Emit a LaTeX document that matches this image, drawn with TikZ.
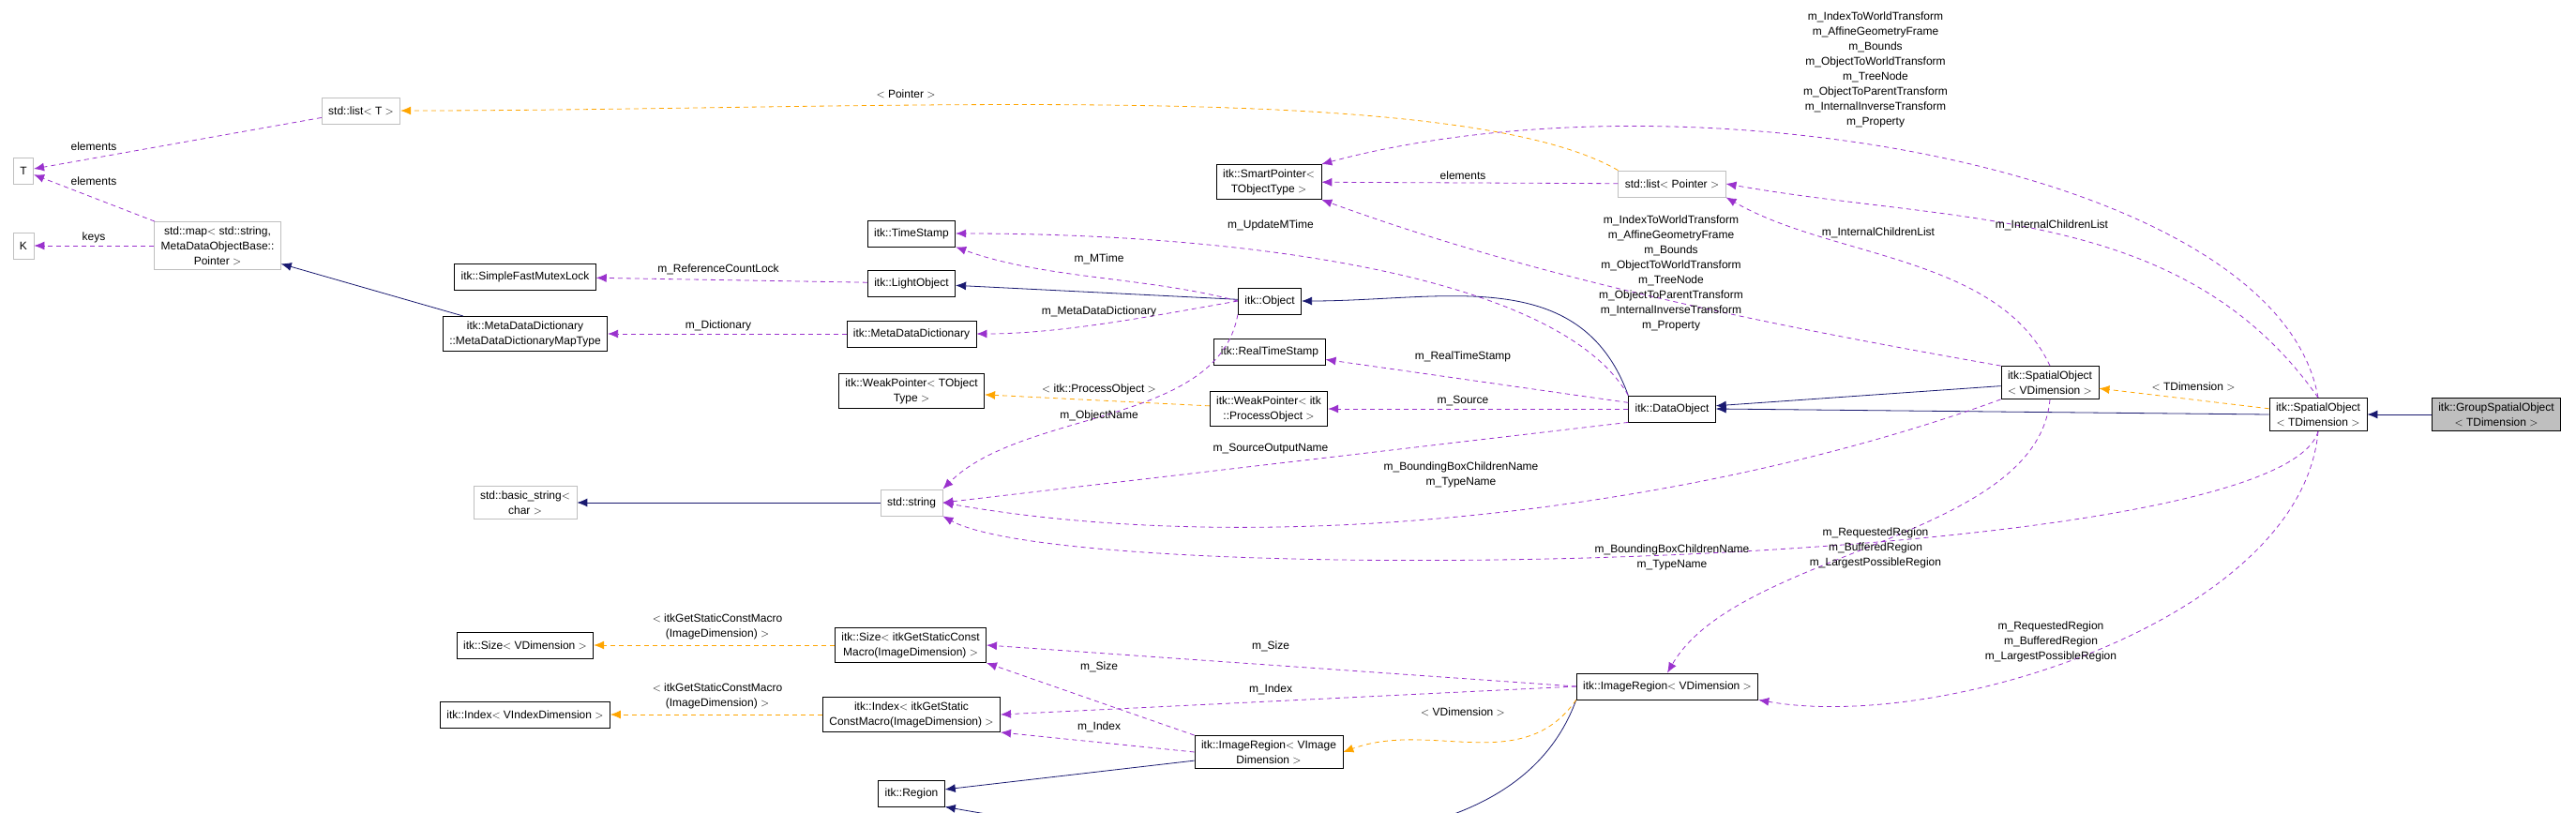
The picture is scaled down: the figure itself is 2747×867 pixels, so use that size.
\documentclass[tikz,border=0pt]{standalone}
\usepackage{fontspec}
\setmainfont{Liberation Sans}
\usetikzlibrary{arrows.meta, positioning}
\definecolor{usecol}{HTML}{9A32CD}
\definecolor{tplcol}{HTML}{FFA500}
\definecolor{inhcol}{HTML}{191970}
\definecolor{greybox}{HTML}{BFBFBF}

\begin{document}
\begin{tikzpicture}[x=1pt,y=-1pt,font=\fontsize{12}{16}\selectfont]
    \tikzstyle{cls}=[draw,thick,align=center,inner xsep=7pt,inner ysep=5pt,minimum height=28pt]
    \tikzstyle{ext}=[cls,draw=greybox]
    \tikzstyle{lbl}=[align=center,inner sep=1pt]
    \tikzstyle{use}=[-{Latex[length=11pt,width=9pt]},usecol,thick,dash pattern=on 5pt off 4pt]
    \tikzstyle{tpl}=[-{Latex[length=11pt,width=9pt]},tplcol,thick,dash pattern=on 5pt off 4pt]
    \tikzstyle{inh}=[-{Latex[length=11pt,width=9pt]},inhcol,thick]

    \useasboundingbox (0,0) rectangle (2747,867);

    % left column
    \node[ext] (T) at (25,182) {T};
    \node[ext] (K) at (25,262) {K};
    \node[ext] (ListT) at (385,118) {std::list$<$ T $>$};
    \node[ext] (Map) at (232,262) {std::map$<$ std::string,\\ MetaDataObjectBase::\\ Pointer $>$};
    \node[cls] (Mutex) at (560,295) {itk::SimpleFastMutexLock};
    \node[cls] (MapType) at (560,356) {itk::MetaDataDictionary\\ ::MetaDataDictionaryMapType};
    \node[ext] (BasicStr) at (560,536) {std::basic\_string$<$\\ char $>$};
    \node[cls] (SizeV) at (560,688) {itk::Size$<$ VDimension $>$};
    \node[cls] (IndexV) at (560,762) {itk::Index$<$ VIndexDimension $>$};

    % second column
    \node[cls] (TStamp) at (972,249) {itk::TimeStamp};
    \node[cls] (LightObj) at (972,302) {itk::LightObject};
    \node[cls] (MetaDict) at (972,356) {itk::MetaDataDictionary};
    \node[cls] (WeakT) at (972,417) {itk::WeakPointer$<$ TObject\\ Type $>$};
    \node[ext] (Str) at (972,536) {std::string};
    \node[cls] (SizeM) at (971,688) {itk::Size$<$ itkGetStaticConst\\ Macro(ImageDimension) $>$};
    \node[cls] (IndexM) at (972,762) {itk::Index$<$ itkGetStatic\\ ConstMacro(ImageDimension) $>$};
    \node[cls] (Region) at (972,846) {itk::Region};

    % third column
    \node[cls] (SmartP) at (1353,194) {itk::SmartPointer$<$\\ TObjectType $>$};
    \node[cls] (Obj) at (1354,321) {itk::Object};
    \node[cls] (RealTS) at (1354,375) {itk::RealTimeStamp};
    \node[cls] (WeakP) at (1353,436) {itk::WeakPointer$<$ itk\\ ::ProcessObject $>$};
    \node[cls] (ImgRegI) at (1353,802) {itk::ImageRegion$<$ VImage\\ Dimension $>$};

    % right part
    \node[ext] (ListP) at (1783,196) {std::list$<$ Pointer $>$};
    \node[cls] (DataObj) at (1783,436) {itk::DataObject};
    \node[cls] (ImgRegV) at (1778,732) {itk::ImageRegion$<$ VDimension $>$};
    \node[cls] (SpatV) at (2186,408) {itk::SpatialObject\\ $<$ VDimension $>$};
    \node[cls] (SpatT) at (2472,442) {itk::SpatialObject\\ $<$ TDimension $>$};
    \node[cls,fill=greybox] (Group) at (2662,442) {itk::GroupSpatialObject\\ $<$ TDimension $>$};

    % inheritance
    \draw[inh] (MapType) -- (Map);
    \draw[inh] (Obj) -- (LightObj);
    \draw[inh] (Str) -- (BasicStr);
    \draw[inh] (DataObj.north west) .. controls +(-110:150) and +(0:150) .. (Obj.east);
    \draw[inh] (SpatV) -- (DataObj);
    \draw[inh] (SpatT.west) -- (DataObj.east);
    \draw[inh] (Group) -- (SpatT);
    \draw[inh] (ImgRegI) -- (Region);
    \draw[inh] (ImgRegV.south west) .. controls +(110:200) and +(10:300) .. (Region.south east);

    % templates
    \draw[tpl] (ListP.north west) .. controls +(-150:200) and +(0:500) .. (ListT.east);
    \draw[tpl] (WeakP) -- (WeakT);
    \draw[tpl] (SpatT) -- (SpatV);
    \draw[tpl] (SizeM) -- (SizeV);
    \draw[tpl] (IndexM) -- (IndexV);
    \draw[tpl] (ImgRegV.south west) .. controls +(125:100) and +(-20:100) .. (ImgRegI.east);

    % members
    \draw[use] (ListT) -- (T);
    \draw[use] (Map) -- (T);
    \draw[use] (Map) -- (K);
    \draw[use] (LightObj) -- (Mutex);
    \draw[use] (MetaDict) -- (MapType);
    \draw[use] (Obj.west) .. controls +(-165:100) and +(20:100) .. (TStamp.south east);
    \draw[use] (Obj.west) .. controls +(170:90) and +(0:90) .. (MetaDict.east);
    \draw[use] (Obj.south west) .. controls +(100:120) and +(-45:120) .. (Str.north east);
    \draw[use] (DataObj.north west) .. controls +(-120:150) and +(0:300) .. (TStamp.east);
    \draw[use] (DataObj) -- (RealTS);
    \draw[use] (DataObj) -- (WeakP);
    \draw[use] (DataObj.south west) -- (Str.east);
    \draw[use] (ListP) -- (SmartP);
    \draw[use] (SpatV.north west) .. controls +(-170:250) and +(20:250) .. (SmartP.south east);
    \draw[use] (SpatT.north) .. controls +(-100:250) and +(-15:400) .. (SmartP.north east);
    \draw[use] (SpatV.north) .. controls +(-115:130) and +(30:130) .. (ListP.south east);
    \draw[use] (SpatT.north) .. controls +(-125:250) and +(10:250) .. (ListP.east);
    \draw[use] (SpatV.south west) .. controls +(160:350) and +(10:350) .. (Str.east);
    \draw[use] (SpatT.south) .. controls (2430,610) and (1150,630) .. (Str.south east);
    \draw[use] (SpatV.south) .. controls +(95:150) and +(-60:150) .. (ImgRegV.north);
    \draw[use] (SpatT.south) .. controls +(95:200) and +(10:200) .. (ImgRegV.south east);
    \draw[use] (ImgRegV.west) -- (SizeM.east);
    \draw[use] (ImgRegV.west) -- (IndexM.east);
    \draw[use] (ImgRegI.north west) -- (SizeM.south east);
    \draw[use] (ImgRegI.west) -- (IndexM.south east);

    % labels
    \node[lbl] (lElemA) at (100,156) {elements};
    \node[lbl] (lElemB) at (100,193) {elements};
    \node[lbl] (lKeys) at (100,253) {keys};
    \node[lbl] (lLock) at (766,287) {m\_ReferenceCountLock};
    \node[lbl] (lDict) at (766,347) {m\_Dictionary};
    \node[lbl] (lSizeT) at (765,668) {$<$ itkGetStaticConstMacro\\ (ImageDimension) $>$};
    \node[lbl] (lIndexT) at (765,742) {$<$ itkGetStaticConstMacro\\ (ImageDimension) $>$};
    \node[lbl] (lPointer) at (966,100) {$<$ Pointer $>$};
    \node[lbl] (lMTime) at (1172,276) {m\_MTime};
    \node[lbl] (lMeta) at (1172,332) {m\_MetaDataDictionary};
    \node[lbl] (lProc) at (1172,415) {$<$ itk::ProcessObject $>$};
    \node[lbl] (lName) at (1172,443) {m\_ObjectName};
    \node[lbl] (lUpd) at (1355,240) {m\_UpdateMTime};
    \node[lbl] (lElemC) at (1560,187) {elements};
    \node[lbl] (lReal) at (1560,380) {m\_RealTimeStamp};
    \node[lbl] (lSource) at (1560,427) {m\_Source};
    \node[lbl] (lOutName) at (1355,479) {m\_SourceOutputName};
    \node[lbl] (lBBoxA) at (1558,506) {m\_BoundingBoxChildrenName\\ m\_TypeName};
    \node[lbl] (lBBoxB) at (1783,594) {m\_BoundingBoxChildrenName\\ m\_TypeName};
    \node[lbl] (lMembA) at (1782,291) {m\_IndexToWorldTransform\\ m\_AffineGeometryFrame\\ m\_Bounds\\ m\_ObjectToWorldTransform\\ m\_TreeNode\\ m\_ObjectToParentTransform\\ m\_InternalInverseTransform\\ m\_Property};
    \node[lbl] (lMembB) at (2000,74) {m\_IndexToWorldTransform\\ m\_AffineGeometryFrame\\ m\_Bounds\\ m\_ObjectToWorldTransform\\ m\_TreeNode\\ m\_ObjectToParentTransform\\ m\_InternalInverseTransform\\ m\_Property};
    \node[lbl] (lChildA) at (2003,248) {m\_InternalChildrenList};
    \node[lbl] (lChildB) at (2188,240) {m\_InternalChildrenList};
    \node[lbl] (lTDim) at (2339,412) {$<$ TDimension $>$};
    \node[lbl] (lRegA) at (2000,584) {m\_RequestedRegion\\ m\_BufferedRegion\\ m\_LargestPossibleRegion};
    \node[lbl] (lRegB) at (2187,684) {m\_RequestedRegion\\ m\_BufferedRegion\\ m\_LargestPossibleRegion};
    \node[lbl] (lSizeA) at (1355,689) {m\_Size};
    \node[lbl] (lSizeB) at (1172,711) {m\_Size};
    \node[lbl] (lIdxA) at (1355,735) {m\_Index};
    \node[lbl] (lIdxB) at (1172,775) {m\_Index};
    \node[lbl] (lVDim) at (1560,759) {$<$ VDimension $>$};
\end{tikzpicture}
\end{document}
